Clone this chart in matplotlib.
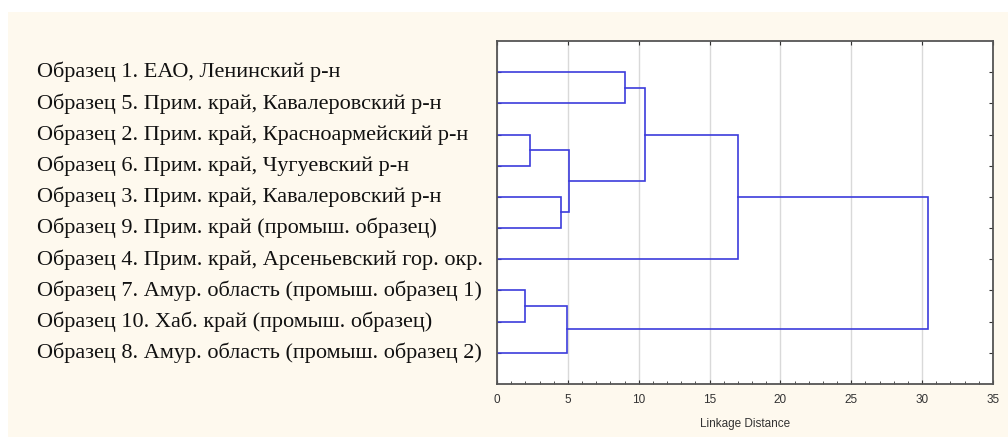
import matplotlib
matplotlib.use("Agg")
import matplotlib.pyplot as plt
import matplotlib.transforms as mtransforms
from matplotlib.patches import Rectangle
from matplotlib.ticker import MultipleLocator

# leaves in display order (top to bottom)
labels = [
    "Образец 1. ЕАО, Ленинский р-н",
    "Образец 5. Прим. край, Кавалеровский р-н",
    "Образец 2. Прим. край, Красноармейский р-н",
    "Образец 6. Прим. край, Чугуевский р-н",
    "Образец 3. Прим. край, Кавалеровский р-н",
    "Образец 9. Прим. край (промыш. образец)",
    "Образец 4. Прим. край, Арсеньевский гор. окр.",
    "Образец 7. Амур. область (промыш. образец 1)",
    "Образец 10. Хаб. край (промыш. образец)",
    "Образец 8. Амур. область (промыш. образец 2)",
]

# merges: (cluster a, cluster b), new cluster ids start at 10
merge_a = [0, 2, 4, 11, 10, 14, 7, 16, 15]
merge_b = [1, 3, 5, 12, 13, 6, 8, 9, 17]
merge_dist = [9.0, 2.3, 4.5, 5.05, 10.45, 17.0, 1.95, 4.95, 30.4]

line_color = "#3c3cdc"

fig = plt.figure(figsize=(10.08, 4.37), dpi=100)
fig.patch.set_facecolor("white")
fig.patches.append(Rectangle((8 / 1008, 0), 1 - 8 / 1008, 1 - 12 / 437,
                             transform=fig.transFigure, facecolor="#fef9ee",
                             edgecolor="none", zorder=-10))

ax = fig.add_axes([497 / 1008, 1 - 384 / 437, 496 / 1008, 343 / 437])
ax.set_facecolor("white")

# positions and heights of every cluster
ypos = {i: i + 1 for i in range(len(labels))}
height = {i: 0.0 for i in range(len(labels))}
for k, (a, b, d) in enumerate(zip(merge_a, merge_b, merge_dist)):
    new = len(labels) + k
    ax.plot([height[a], d, d, height[b]], [ypos[a], ypos[a], ypos[b], ypos[b]],
            color=line_color, lw=1.2, solid_joinstyle="miter")
    ypos[new] = (ypos[a] + ypos[b]) / 2
    height[new] = d

ax.set_xlim(0, 35)
ax.set_ylim(len(labels) + 1, 0)
ax.xaxis.set_major_locator(MultipleLocator(5))
ax.xaxis.set_minor_locator(MultipleLocator(1))
ax.set_yticks(range(1, len(labels) + 1))
ax.set_yticklabels([])
ax.grid(axis="x", color="#d9d9d9", lw=1)
ax.set_axisbelow(True)

ax.tick_params(axis="x", which="major", direction="in", length=3, top=True,
               labelsize=8.5, colors="#333333", labelcolor="#333333", pad=7)
ax.tick_params(axis="x", which="minor", direction="in", length=2, top=False,
               colors="#333333")
ax.tick_params(axis="y", direction="in", length=3, right=True, colors="#333333")
for t in ax.get_xticklabels():
    t.set_family("Liberation Sans")
for s in ax.spines.values():
    s.set_color("#555555")
    s.set_linewidth(1.3)

ax.set_xlabel("Linkage Distance", fontsize=8.5, family="Liberation Sans",
              color="#333333", labelpad=9)

trans = mtransforms.blended_transform_factory(fig.transFigure, ax.transData)
for i, lab in enumerate(labels):
    ax.text(37 / 1008, i + 1, lab, transform=trans, ha="left", va="center",
            fontsize=16, family="Liberation Serif", color="#111111")

fig.savefig("out.png", dpi=100, facecolor=fig.get_facecolor())
